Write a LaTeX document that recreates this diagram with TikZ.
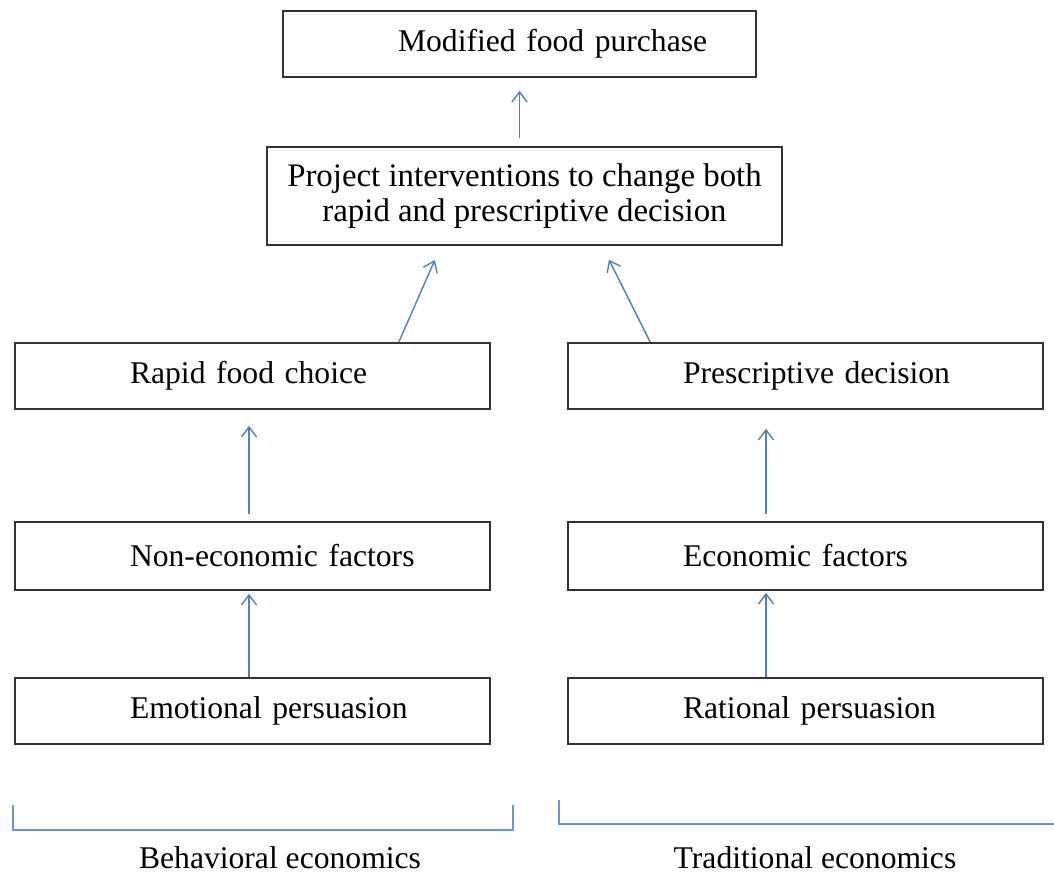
\documentclass[tikz,border=0pt]{standalone}
\usepackage{fontspec}
\setmainfont{Liberation Serif}
\usetikzlibrary{arrows.meta}
\definecolor{arrowblue}{RGB}{79,129,189}
\definecolor{bracketblue}{RGB}{110,150,200}
\begin{document}
\begin{tikzpicture}[x=0.02cm, y=-0.02cm]
           \tikzstyle{frame} = [rectangle, minimum height=1.32cm, draw=black!80, line width=0.9pt, font=\fontsize{18}{20}\selectfont]
           \tikzstyle{box} = [frame, minimum width=9.5cm, inner xsep=0pt, text width=9.5cm, align=left, execute at begin node={\hspace*{2.3cm}}]
            \tikzstyle{arrow} = [draw=arrowblue, line width=0.8pt, ->, >={Straight Barb[length=0.2cm,width=0.3cm]}]
            \tikzstyle{bracket} = [draw=bracketblue, line width=0.9pt]
            \useasboundingbox (0,0) rectangle (1054,873);

            \node (purchase) [box, minimum width=9.46cm, text width=9.46cm] at (519.5,44) {Modified food purchase};
            \node (project) [frame, minimum width=10.3cm, minimum height=1.96cm, align=center, font=\fontsize{18.7}{19.5}\selectfont] at (524.5,196) {Project interventions to change both\\rapid and prescriptive decision};
            \node (rapid) [box] at (252.5,376) {Rapid food choice};
            \node (prescr) [box] at (805.5,376) {Prescriptive decision};
            \node (noneco) [box, minimum height=1.36cm] at (252.5,556) {Non-economic factors};
            \node (eco) [box, minimum height=1.36cm] at (805.5,556) {Economic factors};
            \node (emotional) [box] at (252.5,711) {Emotional persuasion};
            \node (rational) [box] at (805.5,711) {Rational persuasion};

            \node (behav) [font=\fontsize{18}{20}\selectfont] at (280,858) {Behavioral economics};
            \node (trad) [font=\fontsize{18}{20}\selectfont] at (815,858) {Traditional economics};

            \draw[arrow, shorten <=0.16cm, shorten >=0.26cm] (project.north -| purchase.south) -- (purchase.south);
            \draw[arrow, shorten >=0.31cm] ([xshift=-1.84cm]rapid.north east) -- ([xshift=-1.67cm]project.south);
            \draw[arrow, shorten >=0.31cm] ([xshift=1.66cm]prescr.north west) -- ([xshift=1.55cm]project.south);
            \draw[arrow, shorten <=0.14cm, shorten >=0.32cm] ([xshift=-0.07cm]noneco.north) -- ([xshift=-0.07cm]rapid.south);
            \draw[arrow, shorten >=0.06cm] ([xshift=-0.07cm]emotional.north) -- ([xshift=-0.07cm]noneco.south);
            \draw[arrow, shorten <=0.14cm, shorten >=0.38cm] ([xshift=-0.79cm]eco.north) -- ([xshift=-0.79cm]prescr.south);
            \draw[arrow, shorten >=0.04cm] ([xshift=-0.79cm]rational.north) -- ([xshift=-0.79cm]eco.south);

            \draw[bracket] (13,805) -- (13,830) -- (513,830) -- (513,805);
            \draw[bracket] (559,800) -- (559,824) -- (1054,824);
       \end{tikzpicture}
\end{document}
